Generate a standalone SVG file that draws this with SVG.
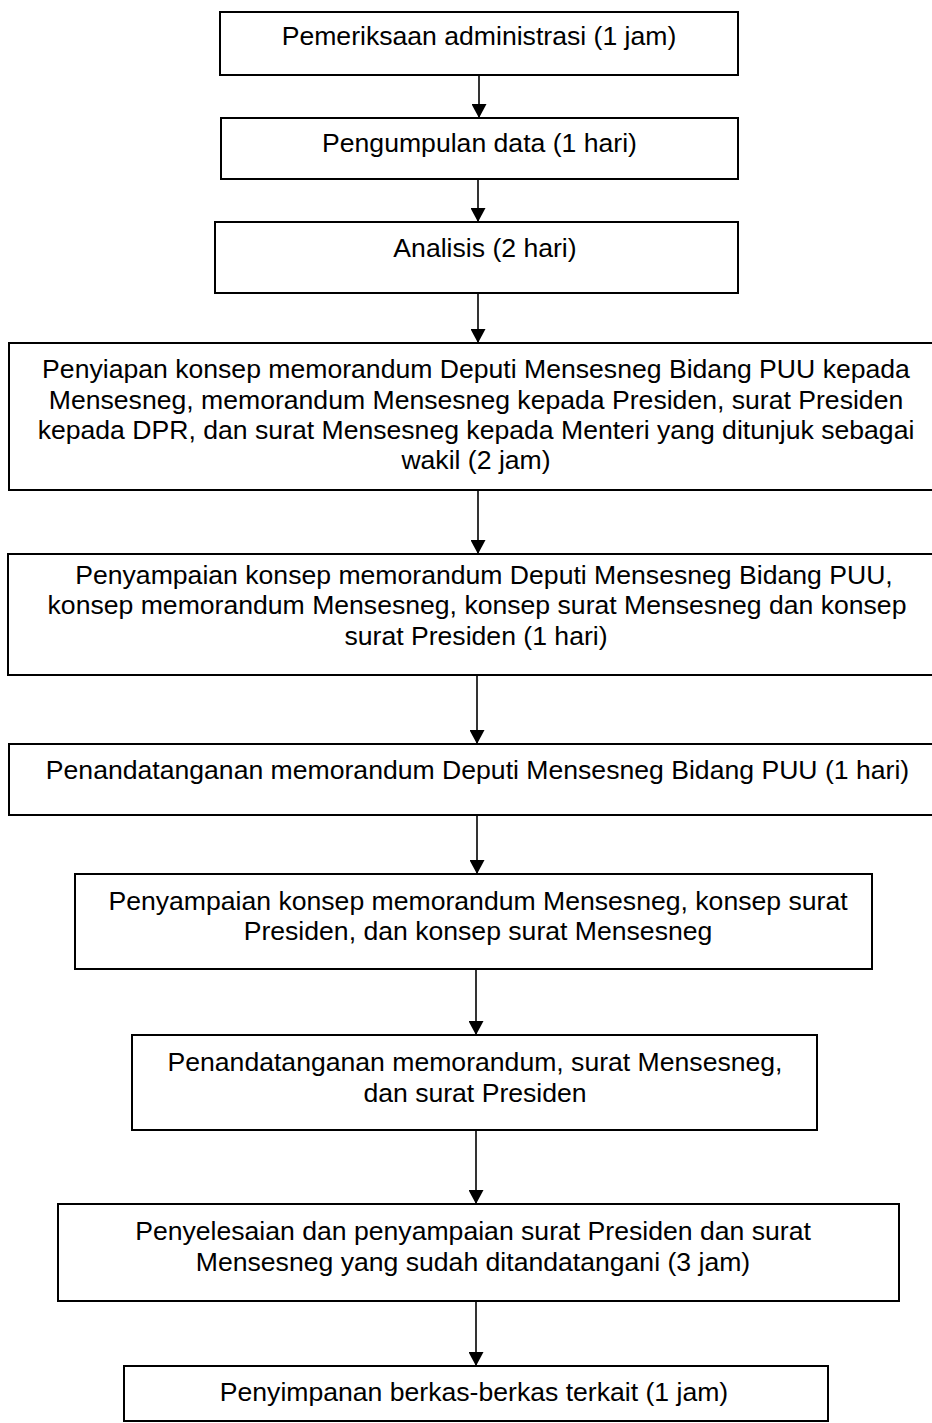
<svg xmlns="http://www.w3.org/2000/svg" width="932" height="1423" viewBox="0 0 932 1423">
<style>
.box{fill:#fff;stroke:#000;stroke-width:2}
.t{font-family:"Liberation Sans",Arial,sans-serif;font-size:26.6px;fill:#000;text-anchor:middle}
.c{stroke:#000;stroke-width:1.6;fill:none;marker-end:url(#ah)}
</style>
<defs>
<marker id="ah" markerUnits="userSpaceOnUse" markerWidth="16" markerHeight="15" refX="14" refY="7.5" orient="auto">
<path d="M0,0 L14,7.5 L0,15 z" fill="#000"/>
</marker>
</defs>
<rect width="932" height="1423" fill="#fff"/>
<g id="connectors">
<line class="c" x1="479" y1="75" x2="479" y2="118"/>
<line class="c" x1="478" y1="179" x2="478" y2="222"/>
<line class="c" x1="478" y1="293" x2="478" y2="343"/>
<line class="c" x1="478" y1="490" x2="478" y2="554"/>
<line class="c" x1="477" y1="675" x2="477" y2="744"/>
<line class="c" x1="477" y1="815" x2="477" y2="874"/>
<line class="c" x1="476" y1="969" x2="476" y2="1035"/>
<line class="c" x1="476" y1="1130" x2="476" y2="1204"/>
<line class="c" x1="476" y1="1301" x2="476" y2="1366"/>
</g>
<g id="n1">
<rect class="box" x="220" y="12" width="518" height="63"/>
<text class="t" x="479" y="45">Pemeriksaan administrasi (1 jam)</text>
</g>
<g id="n2">
<rect class="box" x="221" y="118" width="517" height="61"/>
<text class="t" x="479.5" y="152">Pengumpulan data (1 hari)</text>
</g>
<g id="n3">
<rect class="box" x="215" y="222" width="523" height="71"/>
<text class="t" x="485" y="257">Analisis (2 hari)</text>
</g>
<g id="n4">
<rect class="box" x="9" y="343" width="940" height="147"/>
<text class="t" x="476" y="378">Penyiapan konsep memorandum Deputi Mensesneg Bidang PUU kepada</text>
<text class="t" x="476" y="408.5">Mensesneg, memorandum Mensesneg kepada Presiden, surat Presiden</text>
<text class="t" x="476" y="439">kepada DPR, dan surat Mensesneg kepada Menteri yang ditunjuk sebagai</text>
<text class="t" x="476" y="469">wakil (2 jam)</text>
</g>
<g id="n5">
<rect class="box" x="8" y="554" width="940" height="121"/>
<text class="t" x="484" y="584">Penyampaian konsep memorandum Deputi Mensesneg Bidang PUU,</text>
<text class="t" x="477" y="614">konsep memorandum Mensesneg, konsep surat Mensesneg dan konsep</text>
<text class="t" x="476" y="644.5">surat Presiden (1 hari)</text>
</g>
<g id="n6">
<rect class="box" x="9" y="744" width="940" height="71"/>
<text class="t" x="477.5" y="779">Penandatanganan memorandum Deputi Mensesneg Bidang PUU (1 hari)</text>
</g>
<g id="n7">
<rect class="box" x="75" y="874" width="797" height="95"/>
<text class="t" x="478" y="909.5">Penyampaian konsep memorandum Mensesneg, konsep surat</text>
<text class="t" x="478" y="940">Presiden, dan konsep surat Mensesneg</text>
</g>
<g id="n8">
<rect class="box" x="132" y="1035" width="685" height="95"/>
<text class="t" x="475" y="1071">Penandatanganan memorandum, surat Mensesneg,</text>
<text class="t" x="475" y="1101.5">dan surat Presiden</text>
</g>
<g id="n9">
<rect class="box" x="58" y="1204" width="841" height="97"/>
<text class="t" x="473" y="1240">Penyelesaian dan penyampaian surat Presiden dan surat</text>
<text class="t" x="473" y="1270.5">Mensesneg yang sudah ditandatangani (3 jam)</text>
</g>
<g id="n10">
<rect class="box" x="124" y="1366" width="704" height="55"/>
<text class="t" x="474" y="1401">Penyimpanan berkas-berkas terkait (1 jam)</text>
</g>
</svg>
